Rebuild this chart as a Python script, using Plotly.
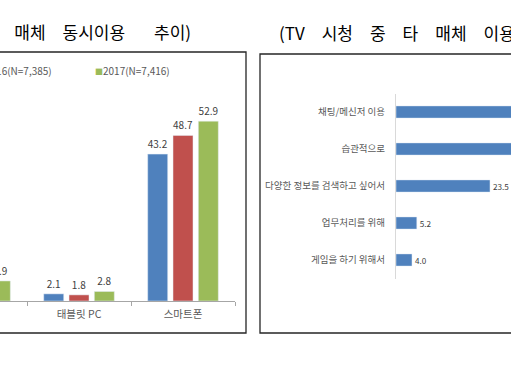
import plotly.graph_objects as go

W, H = 511, 365
FONT = "Noto Sans CJK KR"

# ---- left chart: concurrent media use by year ----
devices = ["노트북", "태블릿 PC", "스마트폰"]
series_names = ["2015", "2016(N=7,385)", "2017(N=7,416)"]
v2015 = [None, 2.1, 43.2]
v2016 = [None, 1.8, 48.7]
v2017 = [5.9, 2.8, 52.9]
series_values = [v2015, v2016, v2017]
series_colors = ["#4F81BD", "#C0504D", "#9BBB59"]

# ---- right chart: reasons for using other media while watching TV ----
reasons = ["채팅/메신저 이용", "습관적으로", "다양한 정보를 검색하고 싶어서",
           "업무처리를 위해", "게임을 하기 위해서"]
reason_values = [38.5, 33.8, 23.5, 5.2, 4.0]

left_title = "(TV\u3000시청\u3000중\u3000타\u3000매체\u3000동시이용\u3000\u2002\u2009추이)"
right_title = "(TV\u3000시청\u3000중\u3000타\u3000매체\u3000이용\u3000이유)"


def px(p):
    return p / W


def py(p):
    return 1 - p / H


fig = go.Figure()

for name, vals, col in zip(series_names, series_values, series_colors):
    fig.add_trace(go.Bar(
        x=devices, y=vals, name=name, marker_color=col,
        texttemplate="%{y:.1f}", textposition="outside",
        textfont=dict(size=10, color="#404040", family=FONT),
        xaxis="x", yaxis="y", showlegend=False, cliponaxis=True,
    ))

fig.add_trace(go.Bar(
    y=reasons, x=reason_values, orientation="h", marker_color="#4F81BD",
    width=0.33, offset=-0.165,
    texttemplate="%{x:.1f}", textposition="outside",
    textfont=dict(size=10, color="#404040", family=FONT),
    xaxis="x2", yaxis="y2", showlegend=False, cliponaxis=True,
))

fig.update_layout(
    width=W, height=H,
    margin=dict(l=0, r=0, t=0, b=0),
    paper_bgcolor="white", plot_bgcolor="white",
    font=dict(family=FONT, color="#595959"),
    barmode="group", bargap=0.27, bargroupgap=0.21,
    showlegend=False,
    xaxis=dict(
        domain=[0, px(235)], range=[0.24, 2.5], type="category",
        categoryorder="array", categoryarray=devices,
        tickson="boundaries", ticks="outside", ticklen=4, tickcolor="#A6A6A6",
        showline=True, linecolor="#A6A6A6", linewidth=1,
        showgrid=False, zeroline=False, ticklabelstandoff=3,
        tickfont=dict(size=10.5, color="#595959", family=FONT),
        anchor="y",
    ),
    yaxis=dict(domain=[py(301), py(80)], range=[0, 65], visible=False, anchor="x"),
    xaxis2=dict(domain=[px(396), 1], range=[0, 28.75], visible=False, anchor="y2"),
    yaxis2=dict(
        domain=[py(278.5), py(93.5)], type="category",
        categoryorder="array", categoryarray=reasons, range=[4.5, -0.5],
        showline=True, linecolor="#D9D9D9", linewidth=1,
        ticks="", showgrid=False, zeroline=False, ticklabelstandoff=8,
        tickfont=dict(size=9.5, color="#595959", family=FONT),
        anchor="x2",
    ),
)

# panel frames
fig.add_shape(type="rect", xref="paper", yref="paper",
              x0=px(-60), x1=px(246), y0=py(333), y1=py(52),
              line=dict(color="#262626", width=1.3), fillcolor="rgba(0,0,0,0)")
fig.add_shape(type="rect", xref="paper", yref="paper",
              x0=px(260), x1=px(600), y0=py(333), y1=py(54),
              line=dict(color="#262626", width=1.3), fillcolor="rgba(0,0,0,0)")

# titles
fig.add_annotation(xref="paper", yref="paper", x=px(193), y=py(32),
                   xanchor="right", yanchor="middle", showarrow=False,
                   text=left_title, font=dict(size=17, color="#000000", family=FONT))
fig.add_annotation(xref="paper", yref="paper", x=px(277), y=py(33),
                   xanchor="left", yanchor="middle", showarrow=False,
                   text=right_title, font=dict(size=17, color="#000000", family=FONT))

# legend (left chart)
legend_pos = [(-48, "right"), (54, "right"), (93, "left")]
for (lx, anc), name, col in zip(legend_pos, series_names, series_colors):
    fig.add_annotation(
        xref="paper", yref="paper", x=px(lx), y=py(70),
        xanchor=anc, yanchor="middle", showarrow=False,
        text=f'<span style="color:{col};font-size:8px">■</span>{name}',
        font=dict(size=10, color="#595959", family=FONT),
    )

fig.write_html("out.html", config={"displayModeBar": False},
               post_script="document.body.style.margin='0px';")
